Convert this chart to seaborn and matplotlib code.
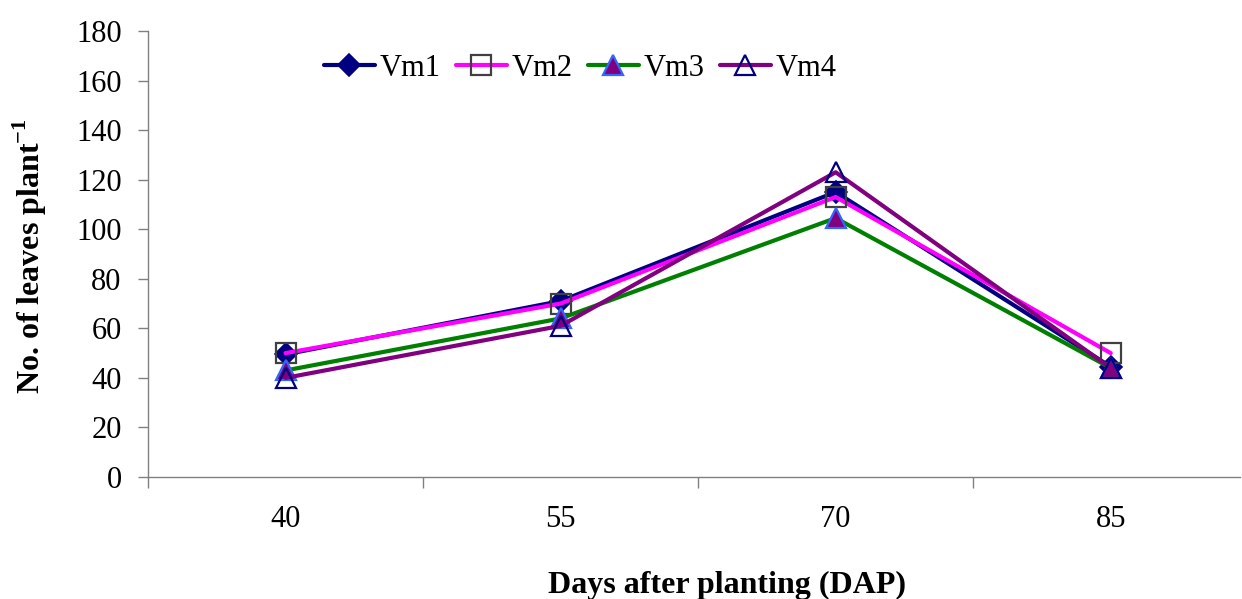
import matplotlib
matplotlib.use("Agg")
import matplotlib.pyplot as plt
import seaborn as sns
import pandas as pd
import numpy as np
from matplotlib.ticker import FixedLocator, NullFormatter, FixedFormatter

# Days after planting and leaf counts per variety
days = ["40", "55", "70", "85"]
vm1 = [49.5, 71, 115, 44.5]
vm2 = [50, 70, 113, 50]
vm3 = [43, 64, 104.5, 44]
vm4 = [40, 61, 123, 44]
series_names = ["Vm1", "Vm2", "Vm3", "Vm4"]
series_values = [vm1, vm2, vm3, vm4]

rows = []
for name, vals in zip(series_names, series_values):
    for i, (d, v) in enumerate(zip(days, vals)):
        rows.append({"variety": name, "pos": i, "day": d, "leaves": v})
df = pd.DataFrame(rows)

sns.set_style("white")
plt.rcParams["font.family"] = ["Liberation Serif", "DejaVu Serif"]
plt.rcParams["mathtext.fontset"] = "custom"
plt.rcParams["mathtext.rm"] = "Liberation Serif"
plt.rcParams["mathtext.bf"] = "Liberation Serif:bold"
plt.rcParams["text.color"] = "black"
plt.rcParams["xtick.labelcolor"] = "black"
plt.rcParams["ytick.labelcolor"] = "black"

FS = 22
LFS = 23

styles = {
    "Vm1": dict(color="#000080", marker="D", mfc="#000080", mec="#000080", ms=11, mew=1.2),
    "Vm2": dict(color="#FF00FF", marker="s", mfc="none", mec="#404040", ms=14, mew=1.6),
    "Vm3": dict(color="#008000", marker="^", mfc="#800080", mec="#3366FF", ms=14, mew=1.6),
    "Vm4": dict(color="#800080", marker="^", mfc="none", mec="#000080", ms=15, mew=1.6),
}

fig = plt.figure(figsize=(12.42, 5.99), dpi=100)
ax = fig.add_axes([148 / 1242, 1 - 477 / 599, (1240 - 148) / 1242, (477 - 31) / 599])

for name in series_names:
    st = styles[name]
    sub = df[df["variety"] == name]
    sns.lineplot(data=sub, x="pos", y="leaves", ax=ax, color=st["color"], lw=3,
                 marker=st["marker"], markersize=st["ms"], markerfacecolor=st["mfc"],
                 markeredgecolor=st["mec"], markeredgewidth=st["mew"], label=name,
                 legend=False, errorbar=None)

ax.set_xlim(-0.5, 3.47)
ax.set_ylim(0, 180)
ax.set_yticks(np.arange(0, 181, 20))
ax.xaxis.set_major_locator(FixedLocator([-0.5, 0.5, 1.5, 2.5, 3.5]))
ax.xaxis.set_major_formatter(NullFormatter())
ax.xaxis.set_minor_locator(FixedLocator([0, 1, 2, 3]))
ax.xaxis.set_minor_formatter(FixedFormatter(days))
ax.tick_params(axis="x", which="major", bottom=True, direction="out", length=8, width=1, color="#808080")
ax.tick_params(axis="x", which="minor", bottom=True, length=0, pad=20, labelsize=FS)
ax.tick_params(axis="y", left=True, direction="out", length=7, width=1, color="#808080", pad=12, labelsize=FS)
ax.set_xlabel("")
ax.set_ylabel("")

for side in ["top", "right"]:
    ax.spines[side].set_visible(False)
for side in ["left", "bottom"]:
    ax.spines[side].set_color("#808080")
    ax.spines[side].set_linewidth(1)

fig.text(727 / 1242, 1 - 585 / 599, "Days after planting (DAP)", ha="center", va="center",
         fontsize=LFS, fontweight="bold")
fig.text(30 / 1242, 1 - 256 / 599, r"No. of leaves plant$^{\mathbf{-1}}$", ha="center", va="center",
         rotation=90, fontsize=LFS, fontweight="bold")

handles, labels = ax.get_legend_handles_labels()
fig.legend(handles, labels, loc="center", bbox_to_anchor=(580 / 1242, 1 - 68 / 599), ncol=4,
           frameon=False, fontsize=FS, handlelength=1.67, handletextpad=0.15, columnspacing=0.5)

fig.savefig("out.png", dpi=100)
